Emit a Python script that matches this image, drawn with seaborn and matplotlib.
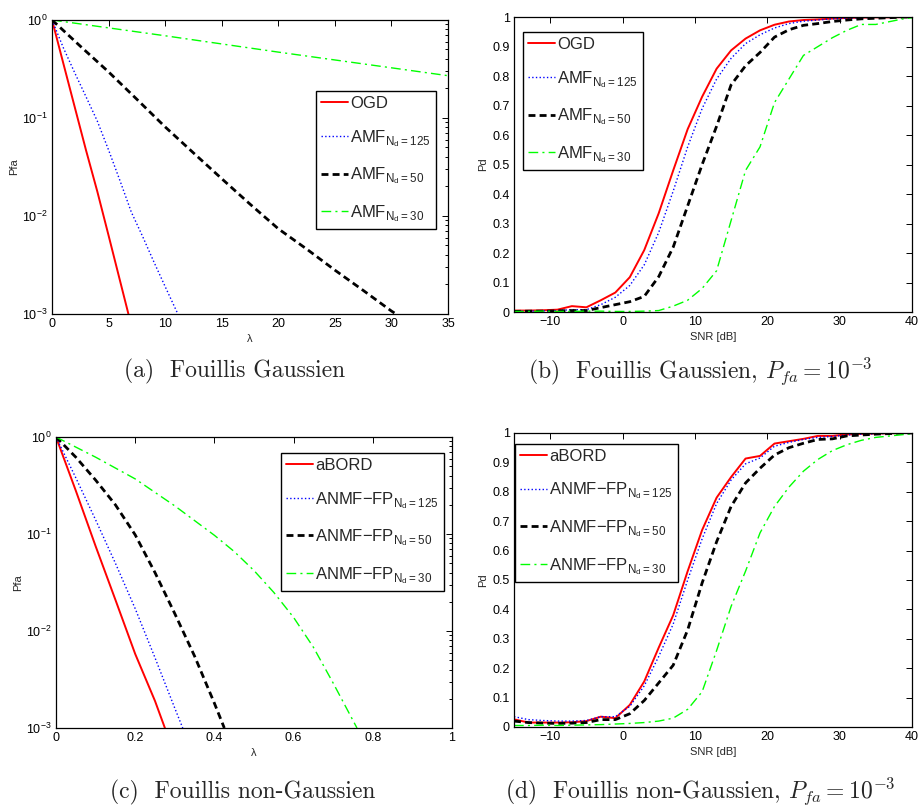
import numpy as np
import pandas as pd
import matplotlib
matplotlib.use("Agg")
import matplotlib.pyplot as plt
import seaborn as sns
from matplotlib.ticker import FuncFormatter, MultipleLocator

# Panel (a): Pfa vs threshold, Gaussian clutter
LAM_OGD = [0, 1, 2, 3, 4, 5, 6, 6.75]
PFA_OGD = [1.0, 0.36, 0.13, 0.047, 0.0178, 0.0063, 0.0022, 0.001]
LAM_AMF125 = [0, 1, 2, 3, 4, 5, 6, 7, 8, 9, 10, 11, 11.15]
PFA_AMF125 = [1.0, 0.52, 0.29, 0.165, 0.093, 0.047, 0.023, 0.011, 0.0062, 0.0034, 0.0019, 0.00107, 0.001]
LAM_AMF50 = [0, 2.5, 5, 7.5, 10, 12.5, 15, 17.5, 20, 22.5, 25, 27.5, 30, 30.4]
PFA_AMF50 = [1.0, 0.54, 0.295, 0.155, 0.081, 0.044, 0.024, 0.0132, 0.0074, 0.0046, 0.0028, 0.00174, 0.00107, 0.001]
LAM_AMF30 = [0, 10, 20, 30, 35]
PFA_AMF30 = [1.0, 0.69, 0.47, 0.325, 0.27]

# Panel (b) / (d): Pd vs SNR
SNR_DB = [-15, -13, -11, -9, -7, -5, -3, -1, 1, 3, 5, 7, 9, 11, 13, 15, 17, 19,
          21, 23, 25, 27, 29, 31, 33, 35, 37, 39, 41]
PD_OGD = [0.005, 0.005, 0.006, 0.008, 0.020, 0.016, 0.040, 0.066,
          0.118, 0.21, 0.335, 0.48, 0.62, 0.73, 0.825, 0.887, 0.927, 0.955,
          0.974, 0.985, 0.990, 0.992, 0.995, 0.997, 0.998, 0.999, 0.999, 1.0, 1.0]
PD_AMF125 = [0.003, 0.003, 0.004, 0.005, 0.008, 0.008, 0.025, 0.05,
             0.09, 0.16, 0.27, 0.41, 0.56, 0.69, 0.79, 0.86, 0.91, 0.94,
             0.963, 0.978, 0.986, 0.99, 0.994, 0.996, 0.998, 0.999, 0.999, 1.0, 1.0]
PD_AMF50 = [0.002, 0.003, 0.003, 0.004, 0.005, 0.005, 0.015, 0.025,
            0.035, 0.053, 0.12, 0.22, 0.36, 0.50, 0.63, 0.77, 0.835, 0.88,
            0.932, 0.957, 0.972, 0.978, 0.985, 0.99, 0.994, 0.996, 0.998, 1.0, 1.0]
PD_AMF30 = [0.002, 0.002, 0.003, 0.002, 0.002, 0.003, 0.003, 0.002,
            0.002, 0.003, 0.005, 0.02, 0.04, 0.08, 0.14, 0.31, 0.48, 0.56,
            0.71, 0.79, 0.87, 0.90, 0.93, 0.955, 0.975, 0.975, 0.985, 0.995, 1.0]

# Panel (c): Pfa vs threshold, non-Gaussian clutter
LAM_ABORD = [0, 0.05, 0.1, 0.15, 0.2, 0.25, 0.275]
PFA_ABORD = [1.0, 0.28, 0.075, 0.021, 0.0058, 0.0019, 0.001]
LAM_ANMF125 = [0, 0.05, 0.1, 0.15, 0.2, 0.25, 0.3, 0.32]
PFA_ANMF125 = [1.0, 0.38, 0.14, 0.05, 0.017, 0.0053, 0.0016, 0.001]
LAM_ANMF50 = [0, 0.05, 0.1, 0.15, 0.2, 0.25, 0.3, 0.35, 0.4, 0.425]
PFA_ANMF50 = [1.0, 0.62, 0.36, 0.20, 0.098, 0.040, 0.0151, 0.0055, 0.0018, 0.001]
LAM_ANMF30 = [0, 0.1, 0.2, 0.3, 0.4, 0.45, 0.5, 0.55, 0.6, 0.65, 0.7, 0.76]
PFA_ANMF30 = [1.0, 0.62, 0.37, 0.195, 0.097, 0.066, 0.042, 0.025, 0.0138, 0.0068, 0.0029, 0.001]

PD_ABORD = [0.026, 0.015, 0.015, 0.015, 0.016, 0.02, 0.035, 0.03,
            0.075, 0.155, 0.27, 0.38, 0.53, 0.67, 0.78, 0.85, 0.913, 0.922,
            0.964, 0.972, 0.98, 0.99, 0.99, 0.995, 0.997, 0.998, 0.999, 1.0, 1.0]
PD_ANMF125 = [0.035, 0.025, 0.022, 0.02, 0.02, 0.022, 0.035, 0.035,
              0.07, 0.14, 0.24, 0.35, 0.5, 0.64, 0.76, 0.84, 0.895, 0.915,
              0.955, 0.968, 0.978, 0.985, 0.988, 0.993, 0.996, 0.997, 0.999, 1.0, 1.0]
PD_ANMF50 = [0.02, 0.015, 0.013, 0.012, 0.013, 0.015, 0.025, 0.025,
             0.045, 0.09, 0.15, 0.21, 0.33, 0.49, 0.63, 0.75, 0.83, 0.88,
             0.925, 0.95, 0.965, 0.978, 0.98, 0.99, 0.993, 0.996, 0.998, 1.0, 1.0]
PD_ANMF30 = [0.005, 0.005, 0.006, 0.005, 0.006, 0.007, 0.008, 0.01,
             0.012, 0.015, 0.02, 0.03, 0.06, 0.12, 0.26, 0.41, 0.53, 0.66,
             0.75, 0.816, 0.87, 0.91, 0.94, 0.96, 0.975, 0.985, 0.99, 0.995, 1.0]

SUB = r'$_{\mathregular{N_d=%s}}$'
CAPTIONS = [r'(a)  Fouillis Gaussien',
            r'(b)  Fouillis Gaussien, $P_{fa} = 10^{-3}$',
            r'(c)  Fouillis non-Gaussien',
            r'(d)  Fouillis non-Gaussien, $P_{fa} = 10^{-3}$']

# line styles (matlab look)
STYLES = [dict(color='red', lw=1.4, linestyle='-'),
          dict(color='blue', lw=1.0, linestyle=':'),
          dict(color='black', lw=2.0, linestyle=(0, (2.5, 1.5))),
          dict(color='#00ff00', lw=1.0, linestyle=(0, (7, 3, 1.5, 3)))]

sns.set_style('white')
plt.rcParams['font.family'] = ['Liberation Sans', 'DejaVu Sans']
plt.rcParams['axes.linewidth'] = 0.9
plt.rcParams['axes.edgecolor'] = 'black'

fig = plt.figure(figsize=(9.21, 8.09), dpi=100)
ax_a = fig.add_axes([0.0565, 0.6119, 0.430, 0.3634])
ax_b = fig.add_axes([0.5581, 0.6143, 0.4321, 0.3646])
ax_c = fig.add_axes([0.0608, 0.1001, 0.430, 0.3597])
ax_d = fig.add_axes([0.5581, 0.1014, 0.4321, 0.3634])


def draw(ax, series, names):
    for (x, y), name, st in zip(series, names, STYLES):
        sns.lineplot(x=x, y=y, ax=ax, label=name, sort=False, **st)


def style_axes(ax):
    ax.tick_params(which='both', direction='in', top=True, right=True,
                   labelsize=9, pad=3, width=0.7, colors='black')
    ax.tick_params(which='major', length=4)
    ax.tick_params(which='minor', length=2)
    for s in ax.spines.values():
        s.set_visible(True)
        s.set_color('black')


def legend(ax, loc, anchor):
    leg = ax.legend(loc=loc, bbox_to_anchor=anchor, borderaxespad=0,
                    fontsize=12, handlelength=1.6, handletextpad=0.15,
                    borderpad=0.3, labelspacing=1.0, fancybox=False,
                    framealpha=1, edgecolor='black')
    leg.get_frame().set_linewidth(1.0)


gfmt = FuncFormatter(lambda v, p: f'{v:g}')

# (a)
draw(ax_a, [(LAM_OGD, PFA_OGD), (LAM_AMF125, PFA_AMF125),
            (LAM_AMF50, PFA_AMF50), (LAM_AMF30, PFA_AMF30)],
     ['OGD', 'AMF' + SUB % '125', 'AMF' + SUB % '50', 'AMF' + SUB % '30'])
ax_a.set_yscale('log')
ax_a.set_xlim(0, 35)
ax_a.set_ylim(1e-3, 1)
ax_a.xaxis.set_major_locator(MultipleLocator(5))
ax_a.set_xlabel('\u03bb', fontsize=8, labelpad=3)
ax_a.set_ylabel('Pfa', fontsize=8, labelpad=2)
legend(ax_a, 'upper right', (0.97, 0.758))

# (b)
draw(ax_b, [(SNR_DB, PD_OGD), (SNR_DB, PD_AMF125),
            (SNR_DB, PD_AMF50), (SNR_DB, PD_AMF30)],
     ['OGD', 'AMF' + SUB % '125', 'AMF' + SUB % '50', 'AMF' + SUB % '30'])
ax_b.set_xlim(-15, 40)
ax_b.set_ylim(0, 1)
ax_b.xaxis.set_major_locator(MultipleLocator(10))
ax_b.yaxis.set_major_locator(MultipleLocator(0.1))
ax_b.yaxis.set_major_formatter(gfmt)
ax_b.set_xlabel('SNR [dB]', fontsize=8, labelpad=3)
ax_b.set_ylabel('Pd', fontsize=8, labelpad=3)
legend(ax_b, 'upper left', (0.023, 0.949))

# (c)
nm = 'ANMF\u2212FP'
draw(ax_c, [(LAM_ABORD, PFA_ABORD), (LAM_ANMF125, PFA_ANMF125),
            (LAM_ANMF50, PFA_ANMF50), (LAM_ANMF30, PFA_ANMF30)],
     ['aBORD', nm + SUB % '125', nm + SUB % '50', nm + SUB % '30'])
ax_c.set_yscale('log')
ax_c.set_xlim(0, 1)
ax_c.set_ylim(1e-3, 1)
ax_c.xaxis.set_major_locator(MultipleLocator(0.2))
ax_c.xaxis.set_major_formatter(gfmt)
ax_c.set_xlabel('\u03bb', fontsize=8, labelpad=3)
ax_c.set_ylabel('Pfa', fontsize=8, labelpad=2)
legend(ax_c, 'upper right', (0.98, 0.945))

# (d)
draw(ax_d, [(SNR_DB, PD_ABORD), (SNR_DB, PD_ANMF125),
            (SNR_DB, PD_ANMF50), (SNR_DB, PD_ANMF30)],
     ['aBORD', nm + SUB % '125', nm + SUB % '50', nm + SUB % '30'])
ax_d.set_xlim(-15, 40)
ax_d.set_ylim(0, 1)
ax_d.xaxis.set_major_locator(MultipleLocator(10))
ax_d.yaxis.set_major_locator(MultipleLocator(0.1))
ax_d.yaxis.set_major_formatter(gfmt)
ax_d.set_xlabel('SNR [dB]', fontsize=8, labelpad=3)
ax_d.set_ylabel('Pd', fontsize=8, labelpad=3)
legend(ax_d, 'upper left', (0.003, 0.963))

for ax in (ax_a, ax_b, ax_c, ax_d):
    style_axes(ax)

# subfigure captions (LaTeX look)
cap_pos = [(0.255, 0.533), (0.760, 0.533), (0.264, 0.0136), (0.760, 0.0136)]
for (cx, cy), txt in zip(cap_pos, CAPTIONS):
    fig.text(cx, cy, txt, ha='center', va='baseline', fontsize=17,
             family=['cmr10', 'DejaVu Serif'], math_fontfamily='cm')

fig.savefig('out.png', dpi=100, facecolor='white')
